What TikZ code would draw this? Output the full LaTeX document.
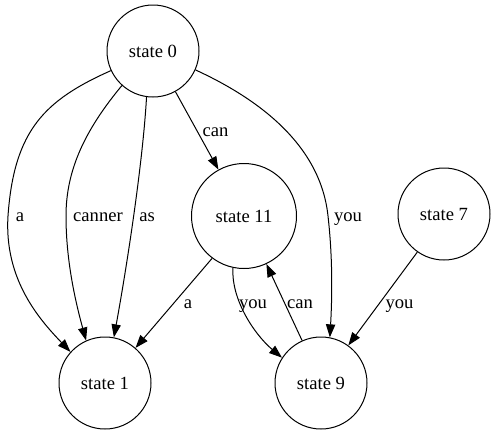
\documentclass[tikz,border=0pt]{standalone}
\usepackage{fontspec}
\setmainfont{Liberation Serif}
\usetikzlibrary{arrows.meta}
\begin{document}
\begin{tikzpicture}[x=1pt,y=-1pt,
  state/.style={draw, circle, line width=1pt, inner sep=0pt, minimum size=92pt,
    font=\fontsize{18.6}{21}\selectfont},
  edge/.style={draw, line width=1pt, -{Triangle[length=13pt,width=9.3pt]}},
  lbl/.style={anchor=base, inner sep=0pt, font=\fontsize{18.6}{21}\selectfont}]
\useasboundingbox (0,0) rectangle (495,434);

% states
\node[state] (s0)  at (153,51)  {state 0};
\node[state, minimum size=105pt] (s11) at (244,216) {state 11};
\node[state] (s7)  at (444,214) {state 7};
\node[state] (s1)  at (105,383) {state 1};
\node[state] (s9)  at (321,383) {state 9};

% transitions out of state 0
\draw[edge] (s0.205) .. controls (45,100) and (14,130) .. (8,216)
            .. controls (4,280) and (40,320) .. (s1.138);
\draw[edge] (s0.228) .. controls (85,130) and (66,170) .. (66,216)
            .. controls (66,260) and (75,300) .. (s1.114);
\draw[edge] (s0.262) .. controls (143,160) and (128,260) .. (s1.79);
\draw[edge] (s0) -- (s11);
\draw[edge] (s0.336) .. controls (250,95) and (320,140) .. (328,216)
            .. controls (333,260) and (332,300) .. (s9.79);

% transitions among the lower states
\draw[edge] (s11.233) -- (s1.49);
\draw[edge] (s11.258) .. controls (231,300) and (255,335) .. (s9.147);
\draw[edge] (s9.114) -- (s11.295);
\draw[edge] (s7.235) -- (s9.54);

% labels
\node[lbl] (la)   at (20,221.5)  {a};
\node[lbl] (lcn)  at (98,221.5)  {canner};
\node[lbl] (las)  at (147,221.5) {as};
\node[lbl] (lc0)  at (215.5,136) {can};
\node[lbl] (ly0)  at (348,221.5) {you};
\node[lbl] (la11) at (188,308)   {a};
\node[lbl] (ly11) at (253,308)   {you};
\node[lbl] (lc9)  at (300,308)   {can};
\node[lbl] (ly7)  at (399.5,308) {you};
\end{tikzpicture}
\end{document}
